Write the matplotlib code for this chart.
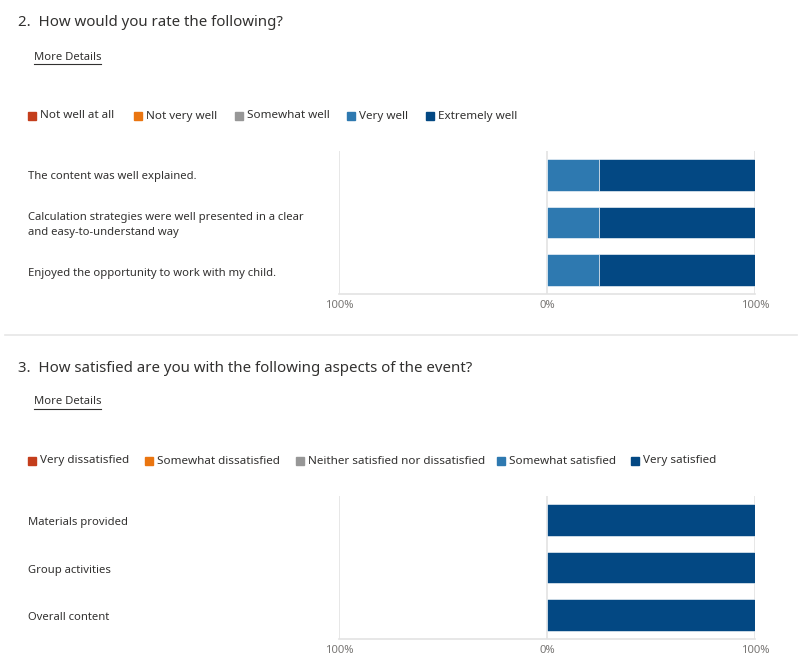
import matplotlib
matplotlib.use("Agg")
import matplotlib.pyplot as plt
from matplotlib.lines import Line2D
from matplotlib.patches import Rectangle
import numpy as np

plt.rcParams['font.family'] = ['Noto Sans', 'DejaVu Sans']

# ---------------- data ----------------
q2_title = "2.  How would you rate the following?"
q2_levels = ["Not well at all", "Not very well", "Somewhat well", "Very well", "Extremely well"]
q2_categories = ["The content was well explained.",
                 "Calculation strategies were well presented in a clear\nand easy-to-understand way",
                 "Enjoyed the opportunity to work with my child."]
q2_not_well_at_all = [0, 0, 0]
q2_not_very_well = [0, 0, 0]
q2_somewhat_well = [0, 0, 0]
q2_very_well = [25, 25, 25]
q2_extremely_well = [75, 75, 75]

q3_title = "3.  How satisfied are you with the following aspects of the event?"
q3_levels = ["Very dissatisfied", "Somewhat dissatisfied", "Neither satisfied nor dissatisfied",
             "Somewhat satisfied", "Very satisfied"]
q3_categories = ["Materials provided", "Group activities", "Overall content"]
q3_very_dissatisfied = [0, 0, 0]
q3_somewhat_dissatisfied = [0, 0, 0]
q3_neither = [0, 0, 0]
q3_somewhat_satisfied = [0, 0, 0]
q3_very_satisfied = [100, 100, 100]

tick_values = [-100, 0, 100]
tick_labels = ["100%", "0%", "100%"]
link_text = "More Details"

colors = ["#C43E1C", "#EA7510", "#979797", "#2E79B0", "#034883"]

# legend marker x positions (px) as laid out in the page
q2_legend_x = [28, 134, 235, 347, 426]
q3_legend_x = [28, 145, 296, 497, 631]

W, H = 800, 670
fig = plt.figure(figsize=(W / 100, H / 100), dpi=100)
fig.patch.set_facecolor("white")

TEXT = "#323130"
GRID = "#e3e3e3"


def fx(px):
    return px / W


def fy(py):
    return 1 - py / H


links = []


def draw_section(top, title, levels, legend_x, cats, series):
    fig.text(fx(18), fy(top + 23), title, fontsize=10.8, color=TEXT, va="center", ha="left")
    t = fig.text(fx(34), fy(top + 57), link_text, fontsize=8.1, color=TEXT, va="center", ha="left")
    links.append((t, top + 63.5))
    # legend
    py = top + 116
    for i, lab in enumerate(levels):
        x = legend_x[i]
        fig.add_artist(Rectangle((fx(x), fy(py + 4)), 8 / W, 8 / H, color=colors[i],
                                 transform=fig.transFigure))
        fig.text(fx(x + 12), fy(py), lab, fontsize=8.4, color=TEXT, va="center", ha="left")
    # axes
    ax_top = top + 151
    ax_bot = top + 294
    ax = fig.add_axes([fx(339), fy(ax_bot), fx(755) - fx(339), (ax_bot - ax_top) / H])
    n = len(cats)
    y = np.arange(n)
    neg = np.array(series[0]) + np.array(series[1]) + np.array(series[2]) / 2.0
    left = -neg
    for i, vals in enumerate(series):
        vals = np.array(vals, dtype=float)
        ax.barh(y, vals, left=left, height=0.667, color=colors[i], edgecolor="white",
                linewidth=0.4, zorder=3)
        left = left + vals
    ax.set_xlim(-100, 100)
    ax.set_ylim(n - 0.5, -0.5)
    for s in ["top", "right", "left"]:
        ax.spines[s].set_visible(False)
    ax.spines["bottom"].set_color(GRID)
    ax.spines["bottom"].set_linewidth(1.2)
    for v in tick_values:
        ax.axvline(v, color=GRID, linewidth=1.2, zorder=1)
    ax.set_xticks(tick_values)
    ax.set_xticklabels(tick_labels, fontsize=8.1, color="#797775")
    ax.tick_params(axis="x", length=0, pad=4)
    ax.set_yticks([])
    ax.set_facecolor("white")
    for i, c in enumerate(cats):
        fig.text(fx(28), fy(ax_top + 26 + 48 * i), c, fontsize=8.1, color=TEXT,
                 va="center", ha="left", linespacing=1.5)
    return ax


draw_section(0, q2_title, q2_levels, q2_legend_x, q2_categories,
             [q2_not_well_at_all, q2_not_very_well, q2_somewhat_well, q2_very_well, q2_extremely_well])
draw_section(345, q3_title, q3_levels, q3_legend_x, q3_categories,
             [q3_very_dissatisfied, q3_somewhat_dissatisfied, q3_neither, q3_somewhat_satisfied,
              q3_very_satisfied])

fig.add_artist(Line2D([fx(5), fx(797)], [fy(335), fy(335)], color="#e6e6e6", linewidth=1.2))

fig.canvas.draw()
renderer = fig.canvas.get_renderer()
for t, py in links:
    bb = t.get_window_extent(renderer)
    fig.add_artist(Line2D([bb.x0 / W, bb.x1 / W], [fy(py), fy(py)], color=TEXT, linewidth=0.8))

fig.savefig("out.png", dpi=100, facecolor="white")
